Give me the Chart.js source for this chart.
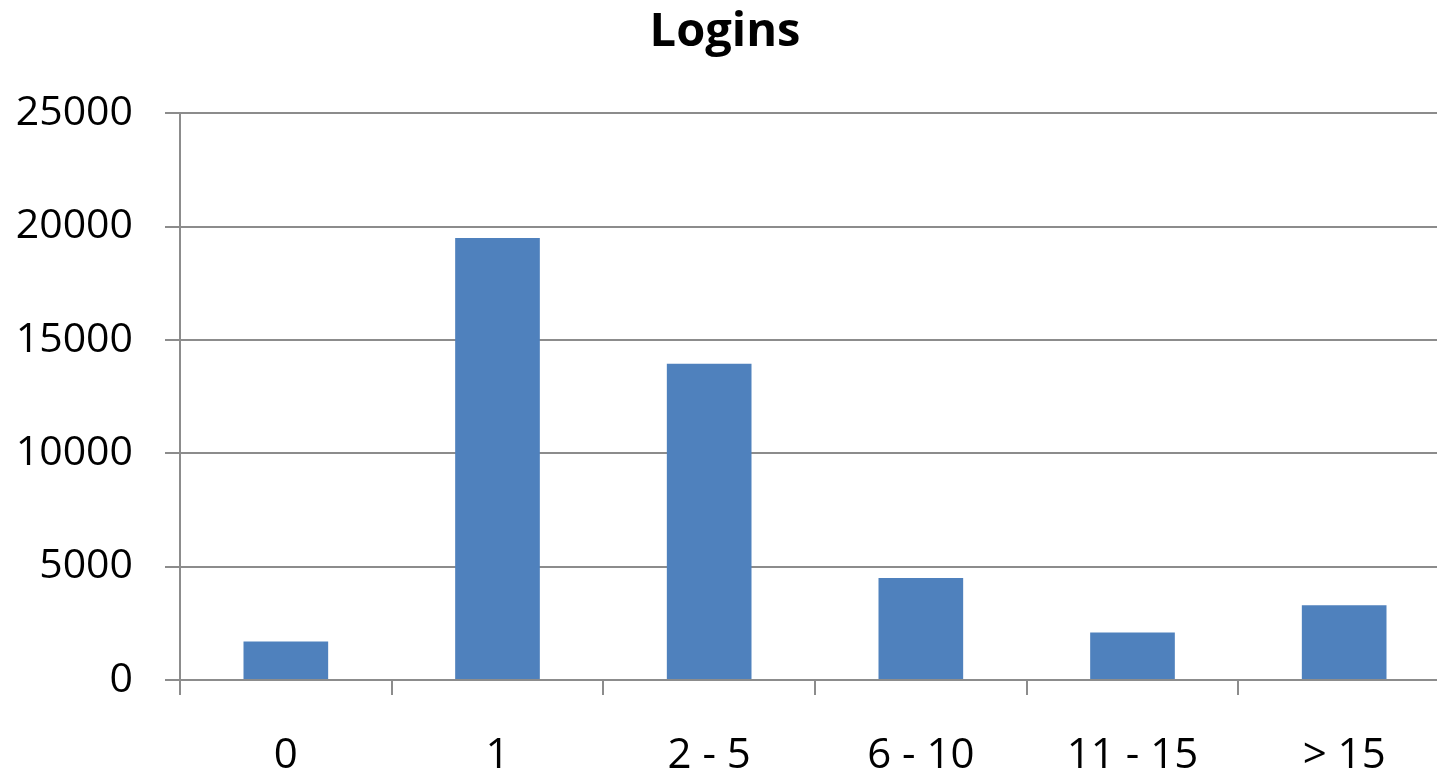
<!DOCTYPE html>
<html>
<head>
<meta charset="utf-8">
<script src="https://cdn.jsdelivr.net/npm/chart.js@4.4.1/dist/chart.umd.min.js"></script>
<style>
  html, body { margin: 0; padding: 0; background: #fff; overflow: hidden; }
  /* the plot area in the original runs a little past the right edge */
  #wrap { width: 1450px; height: 774px; }
</style>
</head>
<body>
<div id="wrap"><canvas id="chart"></canvas></div>
<script>
// data
const categories = ['0', '1', '2 - 5', '6 - 10', '11 - 15', '> 15'];
const logins = [1700, 19500, 13950, 4500, 2100, 3300];
const yTicks = [0, 5000, 10000, 15000, 20000, 25000];

const gridGray = '#8c8c8c';
const font = 'Open Sans';

new Chart(document.getElementById('chart'), {
    type: 'bar',
    data: {
        labels: categories,
        datasets: [{
            label: 'Logins',
            data: logins,
            backgroundColor: '#4f81bd',
            barPercentage: 0.40,
            categoryPercentage: 1.0
        }]
    },
    options: {
        responsive: true,
        maintainAspectRatio: false,
        animation: false,
        layout: { padding: { left: 0, right: 0, top: 0, bottom: 0 } },
        plugins: {
            legend: { display: false },
            tooltip: { enabled: false },
            title: {
                display: true,
                text: 'Logins',
                color: '#000',
                font: { family: font, size: 47, weight: 'bold' },
                padding: { top: 4, bottom: 53 }
            }
        },
        scales: {
            x: {
                afterFit: (scale) => { scale.height = 94; },
                grid: {
                    offset: true,
                    drawOnChartArea: false,
                    drawTicks: true,
                    tickLength: 15,
                    color: gridGray,
                    lineWidth: 2
                },
                border: { color: gridGray, width: 2 },
                ticks: {
                    color: '#000',
                    font: { family: font, size: 42 },
                    padding: 36,
                    maxRotation: 0
                }
            },
            y: {
                min: 0,
                max: 25000,
                afterBuildTicks: (scale) => {
                    scale.ticks = yTicks.map(v => ({ value: v }));
                },
                afterFit: (scale) => { scale.width = 180; },
                grid: {
                    color: gridGray,
                    lineWidth: 2,
                    drawTicks: true,
                    tickLength: 15
                },
                border: { color: gridGray, width: 2 },
                ticks: {
                    color: '#000',
                    font: { family: font, size: 41 },
                    padding: 32,
                    callback: (v) => String(v)
                }
            }
        }
    }
});
</script>
</body>
</html>
